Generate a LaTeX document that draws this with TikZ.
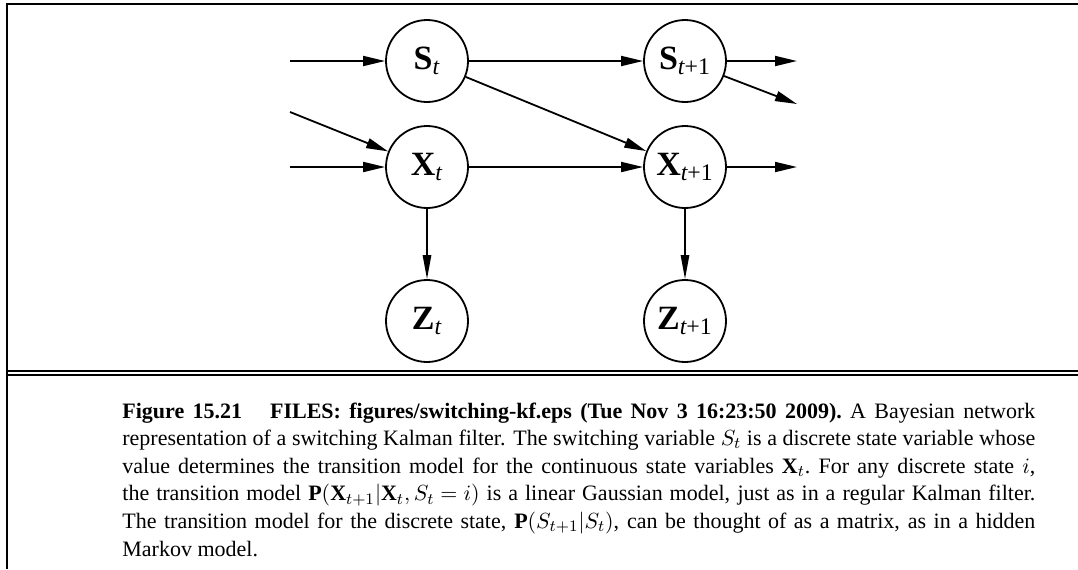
\documentclass[tikz,border=0pt]{standalone}
\usepackage{amsmath}
\usepackage{fontspec}
\setmainfont{Liberation Serif}
\usetikzlibrary{arrows.meta}
\begin{document}
\begin{tikzpicture}[x=0.5pt,y=-0.5pt,
  var/.style={circle,draw,line width=0.9pt,minimum size=41pt,inner sep=0pt,
    font=\fontsize{17}{20}\selectfont},
  edge/.style={line width=0.9pt,-{Triangle[length=11pt,width=5pt]}},
  vedge/.style={line width=0.75pt,-{Triangle[length=12pt,width=4.2pt]}},
  frameline/.style={line width=1pt}]
\useasboundingbox (0,0) rectangle (1078,569);
% frame
\draw[frameline,line join=miter] (6.5,569) -- (6.5,4) -- (1078,4);
\draw[frameline] (6.5,371) -- (1078,371);
\draw[frameline] (6.5,375) -- (1078,375);
% nodes
\node[var] (St) at (427,61) {\textbf{S}$_{\textit{t}}$};
\node[var] (S1) at (685,61) {\textbf{S}$_{\textit{t}\textrm{+1}}$};
\node[var] (Xt) at (427,167) {\textbf{X}$_{\textit{t}}$};
\node[var] (X1) at (685,167) {\textbf{X}$_{\textit{t}\textrm{+1}}$};
\node[var] (Zt) at (427,321) {\textbf{Z}$_{\textit{t}}$};
\node[var] (Z1) at (685,321) {\textbf{Z}$_{\textit{t}\textrm{+1}}$};
% free ends
\coordinate (inS) at (290,61);
\coordinate (inXd) at (290,112);
\coordinate (inX) at (290,167);
\coordinate (outS) at (797,61);
\coordinate (outSd) at (797,104);
\coordinate (outX) at (797,167);
% edges
\draw[edge] (inS) -- (St);
\draw[edge] (inXd) -- (Xt);
\draw[edge] (inX) -- (Xt);
\draw[edge] (St) -- (S1);
\draw[edge] (St) -- (X1);
\draw[edge] (Xt) -- (X1);
\draw[edge] (S1) -- (outS);
\draw[edge] (S1) -- (outSd);
\draw[edge] (X1) -- (outX);
\draw[vedge] (Xt) -- (Zt);
\draw[vedge] (X1) -- (Z1);
% caption
\node[anchor=base west,inner sep=0pt] (cap) at (122,418) {\parbox[t]{456.5pt}{\fontsize{11}{13.8}\selectfont
\thickmuskip=5mu
\textbf{Figure 15.21}\hspace{14pt}\textbf{FILES: figures/switching-kf.eps (Tue Nov 3 16:23:50 2009).}\ A Bayesian network\linebreak
representation of a switching Kalman filter. The switching variable $S_t$ is a discrete state variable whose\linebreak
value determines the transition model for the continuous state variables $\mathbf{X}_t$.\ For any discrete state $i$,\linebreak
the transition model $\mathbf{P}(\mathbf{X}_{t+1}|\mathbf{X}_t,S_t=i)$ is a linear Gaussian model, just as in a regular Kalman filter.\linebreak
The transition model for the discrete state, $\mathbf{P}(S_{t+1}|S_t)$, can be thought of as a matrix, as in a hidden\linebreak
Markov model.}};
\end{tikzpicture}
\end{document}
